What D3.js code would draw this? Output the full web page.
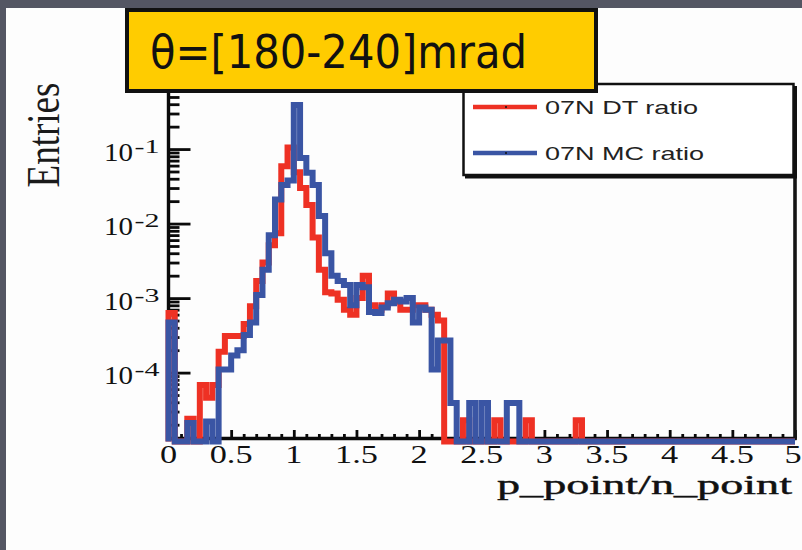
<!DOCTYPE html>
<html>
<head>
<meta charset="utf-8">
<script src="https://cdn.jsdelivr.net/npm/d3@7"></script>
<style>
  html, body { margin: 0; padding: 0; background: #545663; }
  svg { display: block; }
</style>
</head>
<body>
<svg id="chart" width="802" height="550"></svg>
<script>
// ---- histogram contents: 100 bins of width 0.05 on p_point/n_point in [0, 5] ----
const binWidth = 0.05;
const xMin = 0, xMax = 5;

// 07N data ratio (entries per bin, 0 = empty bin)
const dtRatio = [
  6.3e-4, 0, 0, 2.4e-5, 0, 6.8e-5, 4.6e-5, 6.8e-5, 1.9e-4, 3.1e-4,
  3.1e-4, 3.1e-4, 4.5e-4, 7.8e-4, 1.7e-3, 3.0e-3, 5.1e-3, 7.4e-3, 0.059, 0.105,
  0.049, 0.030, 0.0177, 6.5e-3, 2.4e-3, 1.2e-3, 1.15e-3, 9.5e-4, 7.0e-4, 6.0e-4,
  1.0e-3, 2.0e-3, 8.0e-4, 7.0e-4, 8.0e-4, 1.15e-3, 9.0e-4, 7.0e-4, 7.0e-4, 8.0e-4,
  8.0e-4, 7.0e-4, 6.0e-4, 5.0e-4, 0, 0, 0, 2.3e-5, 0, 0,
  0, 0, 2.3e-5, 0, 0, 0, 0, 2.3e-5, 0, 0,
  0, 0, 0, 0, 0, 2.3e-5, 0, 0, 0, 0,
  0, 0, 0, 0, 0, 0, 0, 0, 0, 0,
  0, 0, 0, 0, 0, 0, 0, 0, 0, 0,
  0, 0, 0, 0, 0, 0, 0, 0, 0, 0
];

// 07N Monte Carlo ratio
const mcRatio = [
  4.7e-4, 0, 0, 2.1e-5, 0, 0, 2.2e-5, 0, 1.1e-4, 1.1e-4,
  1.7e-4, 2.0e-4, 3.2e-4, 4.7e-4, 1.1e-3, 2.4e-3, 7.0e-3, 0.021, 0.033, 0.038,
  0.39, 0.076, 0.048, 0.033, 0.0126, 4.0e-3, 2.0e-3, 1.7e-3, 1.5e-3, 8.0e-4,
  1.5e-3, 1.4e-3, 6.5e-4, 6.3e-4, 7.5e-4, 8.5e-4, 9.5e-4, 9.0e-4, 1.0e-3, 4.7e-4,
  7.5e-4, 7.0e-4, 1.1e-4, 2.7e-4, 2.7e-4, 3.9e-5, 0, 0, 3.9e-5, 0,
  3.9e-5, 0, 0, 0, 3.9e-5, 3.9e-5, 0, 0, 0, 0,
  0, 0, 0, 0, 0, 0, 0, 0, 0, 0,
  0, 0, 0, 0, 0, 0, 0, 0, 0, 0,
  0, 0, 0, 0, 0, 0, 0, 0, 0, 0,
  0, 0, 0, 0, 0, 0, 0, 0, 0, 0
];

const seriesNames  = ["07N DT ratio", "07N MC ratio"];
const seriesColors = ["#ee3124", "#3a55a4"];

const xMajorTicks = [0, 0.5, 1, 1.5, 2, 2.5, 3, 3.5, 4, 4.5, 5];
const xTickLabels = ["0", "0.5", "1", "1.5", "2", "2.5", "3", "3.5", "4", "4.5", "5"];
const yMajorTicks = [1e-4, 1e-3, 1e-2, 1e-1];
const yTickExponents = ["-4", "-3", "-2", "-1"];

const titleText = "\u03b8=[180-240]mrad";
const xTitle = "p_point/n_point";
const yTitle = "Entries";

// ---- frame geometry ----
const frame = { left: 168.5, right: 795, top: 88, bottom: 441.5 };
const yDomain = [1.19e-5, 0.66];

const svg = d3.select("#chart");

// slide background and white sheet
svg.append("rect").attr("width", 802).attr("height", 550).attr("fill", "#545663");
svg.append("rect").attr("x", 6).attr("y", 8).attr("width", 796).attr("height", 542).attr("fill", "#fdfdfd");

const x = d3.scaleLinear().domain([xMin, xMax]).range([frame.left, frame.right]);
const y = d3.scaleLog().domain(yDomain).range([frame.bottom, frame.top]).clamp(true);

// ---- axes (drawn first; histograms sit on top of them) ----
const axisCol = "#0a0a0a";
const xAxisY = 438.5;

// x minor ticks every 0.1, major every 0.5, pointing up into the frame
const xMinor = d3.range(0, 50).map(i => i / 10).filter(v => Math.abs(v * 2 - Math.round(v * 2)) > 1e-6);
const gxMinor = svg.append("g").attr("transform", `translate(0,${xAxisY})`)
  .call(d3.axisBottom(x).tickValues(xMinor).tickSizeInner(-4.5).tickSizeOuter(0).tickFormat(""));
const gxMajor = svg.append("g").attr("transform", `translate(0,${xAxisY})`)
  .call(d3.axisBottom(x).tickValues(xMajorTicks).tickSizeInner(-8.5).tickSizeOuter(0).tickFormat(""));
[gxMinor, gxMajor].forEach(g => {
  g.select(".domain").remove();
  g.selectAll(".tick line").attr("stroke", axisCol).attr("stroke-width", 2.8);
});

// y ticks: decades long, 2..9 short, pointing right into the frame
const yAll = y.ticks();
const yMinor = yAll.filter(v => !yMajorTicks.some(m => Math.abs(v / m - 1) < 1e-6));
const gyMinor = svg.append("g").attr("transform", `translate(${frame.left},0)`)
  .call(d3.axisLeft(y).tickValues(yMinor).tickSizeInner(-11).tickSizeOuter(0).tickFormat(""));
const gyMajor = svg.append("g").attr("transform", `translate(${frame.left},0)`)
  .call(d3.axisLeft(y).tickValues(yMajorTicks).tickSizeInner(-22).tickSizeOuter(0).tickFormat(""));
[gyMinor, gyMajor].forEach(g => {
  g.select(".domain").remove();
  g.selectAll(".tick line").attr("stroke", axisCol).attr("stroke-width", 2.8);
});

// frame lines
svg.append("line").attr("x1", frame.left).attr("x2", frame.left).attr("y1", frame.top).attr("y2", 440)
  .attr("stroke", axisCol).attr("stroke-width", 3.4);
svg.append("line").attr("x1", frame.left - 1.5).attr("x2", frame.right + 1.5).attr("y1", xAxisY).attr("y2", xAxisY)
  .attr("stroke", axisCol).attr("stroke-width", 3.4);
svg.append("line").attr("x1", frame.right).attr("x2", frame.right).attr("y1", frame.top).attr("y2", 440)
  .attr("stroke", "#141414").attr("stroke-width", 3.6);

// x tick labels (serif, horizontally widened); the last one is kept inside the sheet
svg.append("g").selectAll("g").data(xMajorTicks).join("g")
  .attr("transform", d => `translate(${Math.min(x(d), 793)},463) scale(1.4,1)`)
  .append("text")
  .attr("text-anchor", "middle")
  .attr("font-family", "Liberation Serif, Times New Roman, serif")
  .attr("font-size", 24.5)
  .attr("fill", "#111")
  .text((d, i) => xTickLabels[i]);

// y tick labels: 10 with superscript exponent
const yLab = svg.append("g").selectAll("g").data(yMajorTicks).join("g");
yLab.append("text")
  .attr("x", 104).attr("y", d => y(d) + 11.5)
  .attr("font-family", "Liberation Serif, Times New Roman, serif")
  .attr("font-size", 25).attr("fill", "#111")
  .attr("textLength", 29).attr("lengthAdjust", "spacingAndGlyphs")
  .text("10");
yLab.append("text")
  .attr("x", 134.5).attr("y", d => y(d) + 3.5)
  .attr("font-family", "Liberation Serif, Times New Roman, serif")
  .attr("font-size", 19).attr("fill", "#111")
  .attr("textLength", 25).attr("lengthAdjust", "spacingAndGlyphs")
  .text((d, i) => yTickExponents[i]);

// ---- histograms as thick step outlines ----
function histPoints(values) {
  const pts = [[xMin, yDomain[0]]];
  values.forEach((v, i) => pts.push([xMin + i * binWidth, v > 0 ? v : yDomain[0]]));
  const last = values[values.length - 1];
  pts.push([xMax, last > 0 ? last : yDomain[0]]);
  pts.push([xMax, yDomain[0]]);
  return pts;
}
const step = d3.line().x(d => x(d[0])).y(d => y(d[1])).curve(d3.curveStepAfter);

[dtRatio, mcRatio].forEach((vals, k) => {
  svg.append("path")
    .attr("d", step(histPoints(vals)))
    .attr("fill", "none")
    .attr("stroke", seriesColors[k])
    .attr("stroke-width", 6)
    .attr("stroke-linejoin", "miter")
    .attr("stroke-linecap", "butt");
});

// ---- axis titles ----
svg.append("text")
  .attr("transform", "translate(59,135) scale(1.23,1) rotate(-90)")
  .attr("text-anchor", "middle")
  .attr("font-family", "Liberation Serif, Times New Roman, serif")
  .attr("font-size", 37).attr("fill", "#1a1a1a")
  .text(yTitle);

svg.append("text")
  .attr("x", 497).attr("y", 494)
  .attr("font-family", "Liberation Serif, Times New Roman, serif")
  .attr("font-size", 27).attr("fill", "#111")
  .attr("stroke", "#111").attr("stroke-width", 0.4)
  .attr("textLength", 295).attr("lengthAdjust", "spacingAndGlyphs")
  .text(xTitle);

// ---- legend ----
const leg = svg.append("g");
leg.append("line").attr("x1", 465).attr("x2", 797).attr("y1", 176.5).attr("y2", 176.5)
  .attr("stroke", "#111").attr("stroke-width", 4);
leg.append("line").attr("x1", 795).attr("x2", 795).attr("y1", 86).attr("y2", 178)
  .attr("stroke", "#111").attr("stroke-width", 4);
leg.append("rect").attr("x", 463.5).attr("y", 84).attr("width", 330).attr("height", 91)
  .attr("fill", "#fff").attr("stroke", "#111").attr("stroke-width", 2.5);

const legRows = [107, 153];
seriesNames.forEach((name, k) => {
  const ly = legRows[k];
  leg.append("line").attr("x1", 473).attr("x2", 537).attr("y1", ly).attr("y2", ly)
    .attr("stroke", seriesColors[k]).attr("stroke-width", 4.5);
  leg.append("circle").attr("cx", 506).attr("cy", ly).attr("r", 1).attr("fill", "#111");
  leg.append("text")
    .attr("x", 545).attr("y", ly + 6.5)
    .attr("font-family", "Liberation Sans, Arial, sans-serif")
    .attr("font-size", 19).attr("fill", "#222")
    .attr("textLength", k === 0 ? 153 : 159).attr("lengthAdjust", "spacingAndGlyphs")
    .text(name);
});

// ---- title box ----
svg.append("rect").attr("x", 127).attr("y", 10).attr("width", 469).attr("height", 81)
  .attr("fill", "#ffcc00").attr("stroke", "#111").attr("stroke-width", 4);
svg.append("text")
  .attr("x", 150).attr("y", 68)
  .attr("font-family", "DejaVu Sans Condensed, DejaVu Sans, sans-serif")
  .style("font-stretch", "condensed")
  .attr("font-size", 47).attr("fill", "#111")
  .attr("textLength", 377).attr("lengthAdjust", "spacingAndGlyphs")
  .text(titleText);
</script>
</body>
</html>
